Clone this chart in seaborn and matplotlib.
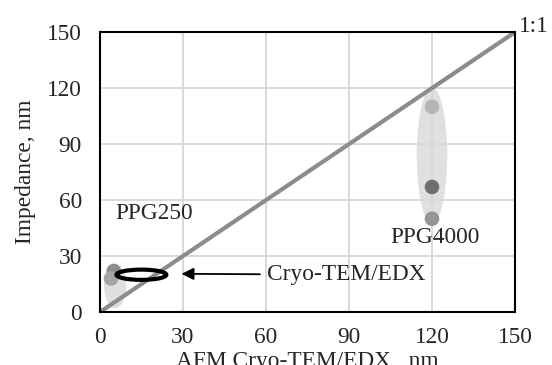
import pandas as pd
import seaborn as sns
import matplotlib.pyplot as plt
from matplotlib.patches import Ellipse

# data
afm = [5, 4, 120, 120, 120]
impedance = [22, 18, 110, 67, 50]
group = ["PPG250", "PPG250", "PPG4000", "PPG4000", "PPG4000"]
point_colors = ["#8c8c8c", "#a6a6a6", "#b4b4b4", "#6e6e6e", "#969696"]
ticks = [0, 30, 60, 90, 120, 150]

df = pd.DataFrame({"AFM": afm, "Impedance": impedance, "Group": group})
one_to_one = pd.DataFrame({"x": [0, 150], "y": [0, 150]})

sns.set_style("white")
plt.rcParams["font.family"] = ["Liberation Serif", "DejaVu Serif"]
fs = 16.8

fig = plt.figure(figsize=(5.52, 3.65), dpi=100)
ax = fig.add_axes([0.181, 0.145, 0.752, 0.767])

ax.grid(True, color="#d9d9d9", linewidth=1.4)
ax.set_axisbelow(True)

# shaded groups
ax.add_patch(Ellipse((5.5, 14), 8, 24, facecolor="#d9d9d9", alpha=0.8,
                     edgecolor="none", zorder=1))
ax.add_patch(Ellipse((120, 84), 11, 73, facecolor="#d9d9d9", alpha=0.8,
                     edgecolor="none", zorder=1))

sns.lineplot(data=one_to_one, x="x", y="y", color="#8c8c8c", linewidth=3,
             ax=ax, zorder=2)

sns.scatterplot(data=df, x="AFM", y="Impedance", hue=df.index,
                palette=point_colors, s=110, edgecolor="none", legend=False,
                ax=ax, zorder=3)

# Cryo-TEM/EDX ring
ax.add_patch(Ellipse((15, 20), 18, 5.5, facecolor="none", edgecolor="black",
                     linewidth=3, zorder=4))
ax.annotate("Cryo-TEM/EDX", xy=(29.5, 20.5), xytext=(60.5, 20),
            fontsize=fs, va="center",
            arrowprops=dict(arrowstyle="-|>", color="black", lw=1.3,
                            mutation_scale=18, shrinkA=3, shrinkB=0))

ax.text(5.5, 53, "PPG250", fontsize=fs, va="center")
ax.text(121, 40, "PPG4000", fontsize=fs, va="center", ha="center")
ax.text(151.5, 153, "1:1", fontsize=fs, va="center", clip_on=False)

ax.set_xlim(0, 150)
ax.set_ylim(0, 150)
ax.set_xticks(ticks)
ax.set_yticks(ticks)
ax.tick_params(axis="x", labelsize=fs, length=0, pad=11)
ax.tick_params(axis="y", labelsize=fs, length=0, pad=13)
for s in ax.spines.values():
    s.set_color("black")
    s.set_linewidth(1.5)

ax.set_xlabel("AFM Cryo-TEM/EDX , nm", fontsize=fs, labelpad=2)
ax.set_ylabel("Impedance, nm", fontsize=fs, labelpad=8)

fig.savefig("out.png", dpi=100)
